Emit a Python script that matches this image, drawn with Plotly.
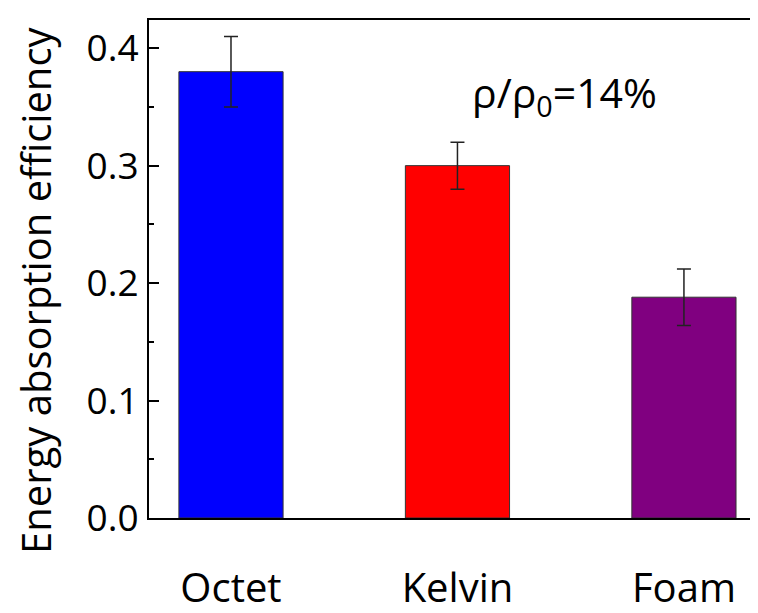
import plotly.graph_objects as go

categories = ["Octet", "Kelvin", "Foam"]
efficiency = [0.38, 0.30, 0.188]
error = [0.03, 0.02, 0.024]
bar_colors = ["#0000FF", "#FF0000", "#800080"]
y_ticks = [0.0, 0.1, 0.2, 0.3, 0.4]

FONT = "Open Sans"
fig = go.Figure()
fig.add_trace(go.Bar(
    x=[0, 1, 2], y=efficiency,
    width=0.46,
    marker=dict(color=bar_colors, line=dict(color="#333333", width=1)),
    error_y=dict(type="data", array=error, visible=True, color="#222222",
                 thickness=1.5, width=7),
    showlegend=False,
))
# invisible trace for right-side mirror tick stubs
fig.add_trace(go.Scatter(x=[0], y=[0], yaxis="y2", mode="markers",
                         marker=dict(opacity=0), showlegend=False, hoverinfo="skip"))

# page body has an 8px default margin; compensate so the plot sits where the reference has it
fig.update_layout(
    width=750, height=605,
    margin=dict(l=141, r=0, t=12, b=95),
    plot_bgcolor="white", paper_bgcolor="white",
    font=dict(family=FONT, size=34, color="black"),
    xaxis=dict(
        range=[-0.362, 2.327], automargin=False,
        tickmode="array", tickvals=[0, 1, 2], ticktext=categories,
        ticks="", showline=True, linecolor="black", linewidth=2,
        mirror=True, showgrid=False, zeroline=False,
        ticklabelstandoff=34,
        tickfont=dict(family=FONT, size=40),
    ),
    yaxis=dict(
        range=[0, 0.424], automargin=False,
        tickmode="array", tickvals=y_ticks,
        ticktext=[f"{v:.1f}" for v in y_ticks],
        ticks="inside", ticklen=10, tickwidth=2, tickcolor="black",
        minor=dict(ticks="inside", ticklen=5, tickwidth=2, dtick=0.05, tickcolor="black"),
        showline=True, linecolor="black", linewidth=2,
        showgrid=False, zeroline=False,
        ticklabelstandoff=1,
        tickfont=dict(family=FONT, size=37),
    ),
    yaxis2=dict(
        overlaying="y", side="right", range=[0, 0.424], automargin=False,
        tickmode="array", tickvals=y_ticks[1:], ticks="inside", ticklen=3,
        tickwidth=2, tickcolor="black", showticklabels=False,
        showline=False, showgrid=False, zeroline=False,
    ),
    annotations=[
        dict(
            x=(565 - 149) / 226.5 - 0.362, y=0.361, xref="x", yref="y",
            text="ρ/ρ<sub>0</sub>=14%", showarrow=False,
            font=dict(family=FONT, size=41, color="black"),
        ),
        dict(
            x=(27 - 141) / 609, y=(498 - 270) / 498, xref="paper", yref="paper",
            text="Energy absorption efficiency", showarrow=False, textangle=-90,
            xanchor="center", yanchor="middle",
            font=dict(family=FONT, size=40, color="black"),
        ),
    ],
)

fig.write_html("out.html")
